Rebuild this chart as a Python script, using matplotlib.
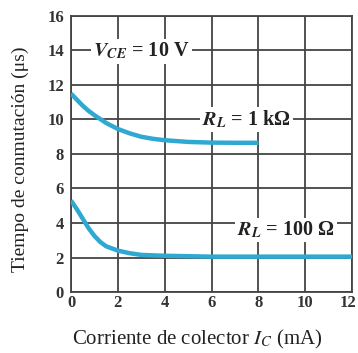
import matplotlib
matplotlib.use("Agg")
import matplotlib.pyplot as plt
import matplotlib.transforms as mtransforms
import numpy as np

ic_1k = [0, 0.25, 0.5, 0.75, 1, 1.5, 2, 2.5, 3, 3.5, 4, 5, 6, 7, 8]
t_1k = [11.5, 11.15, 10.8, 10.5, 10.25, 9.8, 9.45, 9.2, 9.0, 8.88, 8.8, 8.7, 8.66, 8.65, 8.65]
ic_100 = [0, 0.25, 0.5, 0.75, 1, 1.25, 1.5, 2, 2.5, 3, 4, 6, 8, 10, 12]
t_100 = [5.3, 4.8, 4.25, 3.7, 3.25, 2.9, 2.65, 2.4, 2.25, 2.15, 2.1, 2.05, 2.05, 2.05, 2.05]
xticks = [0, 2, 4, 6, 8, 10, 12]
yticks = [0, 2, 4, 6, 8, 10, 12, 14, 16]

plt.rcParams['font.family'] = ['Liberation Serif', 'DejaVu Serif']
plt.rcParams['mathtext.fontset'] = 'stix'

W, H = 358, 353
fig = plt.figure(figsize=(W / 100, H / 100), dpi=100)
L, R, T, B = 71, 352, 16, 292
ax = fig.add_axes([L / W, 1 - B / H, (R - L) / W, (B - T) / H])

blue = '#2fa9d2'
ax.plot(ic_1k, t_1k, color=blue, lw=3.2, solid_capstyle='butt', solid_joinstyle='round', zorder=3)
ax.plot(ic_100, t_100, color=blue, lw=3.2, solid_capstyle='butt', solid_joinstyle='round', zorder=3)

ax.set_xlim(0, 12)
ax.set_ylim(0, 16)
ax.set_xticks(xticks)
ax.set_yticks(yticks)
ax.grid(True, color='#444444', lw=1.3, zorder=1)
ax.tick_params(axis='y', length=0, pad=5, labelsize=12, colors='#333333')
ax.tick_params(axis='x', length=0, pad=2, labelsize=12, colors='#333333')
for lab in ax.get_xticklabels() + ax.get_yticklabels():
    lab.set_fontweight('bold')
last = ax.get_xticklabels()[-1]
last.set_transform(last.get_transform() + mtransforms.ScaledTranslation(-4 / 100, 0, fig.dpi_scale_trans))
for s in ax.spines.values():
    s.set_color('#444444')
    s.set_linewidth(1.3)

bb = dict(boxstyle='square,pad=0.1', fc='white', ec='none')
fs_in = 14.5
ax.text(0.95, 13.95, r'$\mathbfit{V}_{\mathbfit{CE}}$ = 10 V', fontsize=fs_in, fontweight='bold',
        ha='left', va='center', bbox=bb, zorder=4, color='#222222')
ax.text(5.6, 10.0, r'$\mathbfit{R}_{\mathbfit{L}}$ = 1 kΩ', fontsize=fs_in, fontweight='bold',
        ha='left', va='center', bbox=bb, zorder=4, color='#222222')
ax.text(7.1, 3.6, r'$\mathbfit{R}_{\mathbfit{L}}$ = 100 Ω', fontsize=fs_in, fontweight='bold',
        ha='left', va='center', bbox=bb, zorder=4, color='#222222')

fig.text(20 / W, 1 - 159 / H, 'Tiempo de conmutación (μs)', fontsize=14, rotation=90,
         ha='center', va='center', color='#222222')
fig.text(197 / W, 1 - 339 / H, 'Corriente de colector $I_C$ (mA)', fontsize=15,
         ha='center', va='center', color='#222222')

fig.savefig('out.png', dpi=100)
